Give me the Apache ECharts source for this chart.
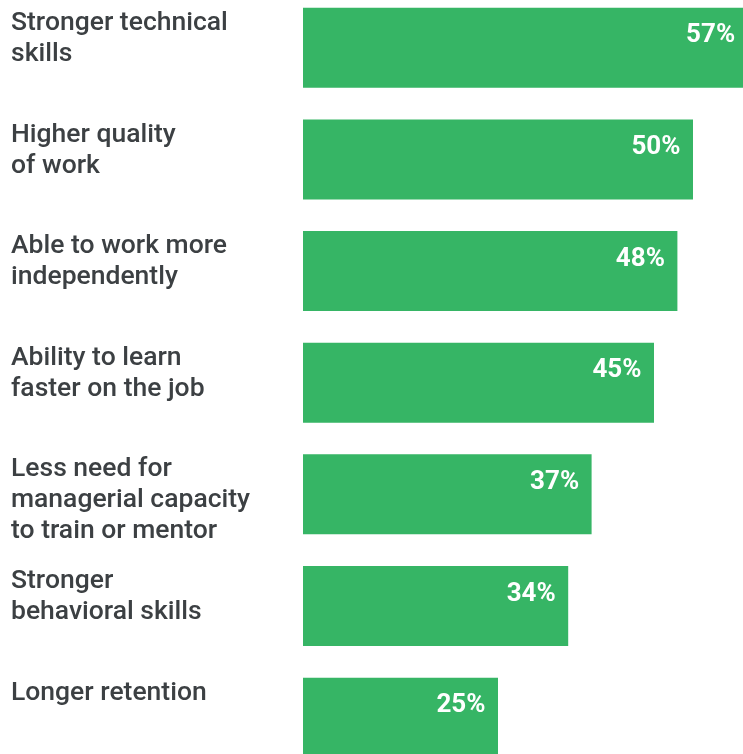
<!DOCTYPE html>
<html>
<head>
<meta charset="utf-8">
<script src="https://cdn.jsdelivr.net/npm/echarts@6/dist/echarts.min.js"></script>
<style>html,body{margin:0;padding:0;background:#fff}#c{width:743px;height:754px}</style>
</head>
<body>
<div id="c"></div>
<script>
const categories = [
  'Stronger technical\nskills',
  'Higher quality\nof work',
  'Able to work more\nindependently',
  'Ability to learn\nfaster on the job',
  'Less need for\nmanagerial capacity\nto train or mentor',
  'Stronger\nbehavioral skills',
  'Longer retention'
];
const values = [57, 50, 48, 45, 37, 34, 25];

const chart = echarts.init(document.getElementById('c'), null, {renderer: 'canvas'});
chart.setOption({
  animation: false,
  backgroundColor: '#ffffff',
  grid: {left: 303, right: -340, top: -8.1, bottom: -19.5, containLabel: false, outerBoundsMode: 'none'},
  xAxis: {type: 'value', min: 0, max: 100, show: false},
  yAxis: {
    type: 'category', data: categories, inverse: true,
    axisLine: {show: false}, axisTick: {show: false}, axisLabel: {show: false}, splitLine: {show: false}
  },
  series: [
    {
      type: 'bar', data: values, barWidth: 80, clip: false,
      itemStyle: {color: '#36b565'},
      label: {
        show: true, position: 'insideRight', distance: 12.5, offset: [0, -12],
        formatter: p => p.value + '%',
        color: '#ffffff', fontFamily: 'Roboto', fontWeight: 'bold', fontSize: 26
      }
    },
    {
      type: 'bar', data: values, barWidth: 80, barGap: '-100%', clip: false,
      itemStyle: {color: 'rgba(0,0,0,0)'},
      label: {
        show: true, position: [-292, 0], align: 'left', verticalAlign: 'top',
        formatter: p => categories[p.dataIndex],
        color: '#3c4043', fontFamily: 'Roboto', fontWeight: 500, fontSize: 26.5, lineHeight: 31
      }
    }
  ]
});
</script>
</body>
</html>
